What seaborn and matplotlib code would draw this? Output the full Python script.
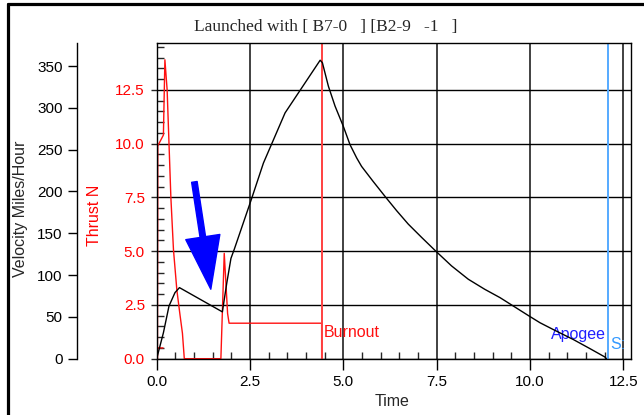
import matplotlib
matplotlib.use("Agg")
import matplotlib.pyplot as plt
from matplotlib.lines import Line2D
from matplotlib.ticker import MultipleLocator
import seaborn as sns
import pandas as pd

# velocity trace (mph)
vel_time = [0.0, 0.18, 0.33, 0.49, 0.61, 1.76, 1.88, 1.99, 2.08, 2.54, 2.86, 3.44,
            4.38, 4.44, 4.60, 4.78, 5.00, 5.18, 5.36, 5.49, 5.80, 6.12, 6.43,
            6.74, 7.10, 7.47, 7.90, 8.35, 8.79, 9.20, 9.98, 10.27, 10.62,
            11.16, 11.61, 12.01, 12.05]
velocity = [0, 31, 63, 79, 85, 56, 91, 120, 131, 191, 234, 294,
            357, 354, 326, 302, 278, 256, 240, 230, 212, 194, 177,
            161, 145, 129, 111, 95, 83, 73, 51, 43, 35,
            23, 12, 2, 0]

# thrust trace (N)
thrust_time = [0.17, 0.02, 0.02, 0.03, 0.18, 0.22, 0.28, 0.38, 0.45, 0.54, 0.62,
               0.69, 0.74, 1.72, 1.81, 1.90, 1.94, 4.42, 4.42]
thrust = [0.5, 0.5, 0.0, 9.9, 10.4, 13.9, 12.5, 7.5, 5.06, 3.2, 2.1,
          1.18, 0.0, 0.0, 4.9, 2.1, 1.65, 1.65, 0.0]

burnout_t = 4.42
apogee_t = 12.1
title = "Launched with [ B7-0   ] [B2-9   -1   ]"

vel_df = pd.DataFrame({"Time": vel_time, "Velocity": velocity})
thr_df = pd.DataFrame({"Time": thrust_time, "Thrust": thrust})

sns.set_style("ticks")
plt.rcParams["font.family"] = ["Liberation Sans", "DejaVu Sans"]

fig = plt.figure(figsize=(6.44, 4.15), dpi=100)
ax = fig.add_axes([0.2433, 0.1357, 0.736, 0.7607])

# thrust axis with grid
ax.set_xlim(0, 12.7)
ax.set_ylim(0, 14.68)
ax.xaxis.set_major_locator(MultipleLocator(2.5))
ax.xaxis.set_minor_locator(MultipleLocator(0.5))
ax.yaxis.set_major_locator(MultipleLocator(2.5))
ax.yaxis.set_minor_locator(MultipleLocator(0.5))
ax.xaxis.set_major_formatter(lambda v, p: f"{v:.1f}")
ax.yaxis.set_major_formatter(lambda v, p: f"{v:.1f}")
ax.grid(axis="x", which="major", color="#333333", lw=1.3)
ax.grid(axis="y", which="major", color="black", lw=1.0)
ax.tick_params(axis="x", which="major", direction="out", length=8, width=1,
               labelsize=11, pad=4, colors="black")
ax.tick_params(axis="x", which="minor", direction="in", length=5, width=1)
ax.tick_params(axis="y", which="major", direction="out", length=4.5, width=1,
               labelsize=11, labelcolor="#ff0000", pad=4)
ax.tick_params(axis="y", which="minor", direction="in", length=5, width=1)
for s in ax.spines.values():
    s.set_visible(True)
    s.set_color("black")
    s.set_linewidth(1.0)

sns.lineplot(data=thr_df, x="Time", y="Thrust", ax=ax, sort=False,
             estimator=None, color="#ff1010", lw=1.0)
ax.axvline(burnout_t, color="#ff4040", lw=1.4)
ax.axvline(apogee_t, color="#55aaff", lw=1.4)

ax.set_xlabel("Time", fontsize=11.5, va="center")
ax.xaxis.set_label_coords(0.496, -0.136)
ax.set_ylabel("Thrust N", fontsize=11.5, color="#ff0000", va="center")
ax.yaxis.set_label_coords(-0.132, 0.455)

ax.text(burnout_t + 0.06, 1.21, "Burnout", color="#ff1010", fontsize=11.5,
        ha="left", va="center")
ax.text(12.03, 1.13, "Apogee", color="#2020ff", fontsize=11.5,
        ha="right", va="center")
ax.text(12.14, 0.64, "S:", color="#3399ff", fontsize=11.5,
        ha="left", va="center")

ax.annotate("", xy=(1.45, 3.23), xytext=(1.01, 8.22),
            arrowprops=dict(arrowstyle="simple,head_width=2.48,head_length=3.8,tail_width=0.4",
                            mutation_scale=10, color="#0000ff", shrinkA=0, shrinkB=0))

# velocity axis, offset to the left
ax2 = ax.twinx()
ax2.set_ylim(0, 377.6)
ax2.spines["left"].set_visible(True)
ax2.spines["left"].set_position(("axes", -0.1675))
ax2.spines["left"].set_color("black")
ax2.spines["left"].set_linewidth(1.0)
for k in ["right", "top", "bottom"]:
    ax2.spines[k].set_visible(False)
ax2.yaxis.set_ticks_position("left")
ax2.yaxis.set_label_position("left")
ax2.set_yticks([0, 50, 100, 150, 200, 250, 300, 350])
ax2.tick_params(axis="y", direction="out", length=6.5, width=1, labelsize=11,
                pad=4, colors="black")
sns.lineplot(data=vel_df, x="Time", y="Velocity", ax=ax2, sort=False,
             estimator=None, color="black", lw=1.0)
ax2.set_xlim(0, 12.7)
ax2.set_ylabel("Velocity Miles/Hour", fontsize=11.5, va="center")
ax2.yaxis.set_label_coords(-0.287, 0.474)
ax2.set_xlabel("")

fig.text(0.5054, 0.934, title, ha="center", va="center", fontsize=12.5,
         family=["Liberation Serif", "DejaVu Serif"])

# window frame on top/left
fig.add_artist(Line2D([0.01195, 0.01195], [0, 0.99036], color="black", lw=2.3))
fig.add_artist(Line2D([0.01195, 1.0], [0.99036, 0.99036], color="black", lw=2.3))

fig.savefig("out.png", dpi=100)
